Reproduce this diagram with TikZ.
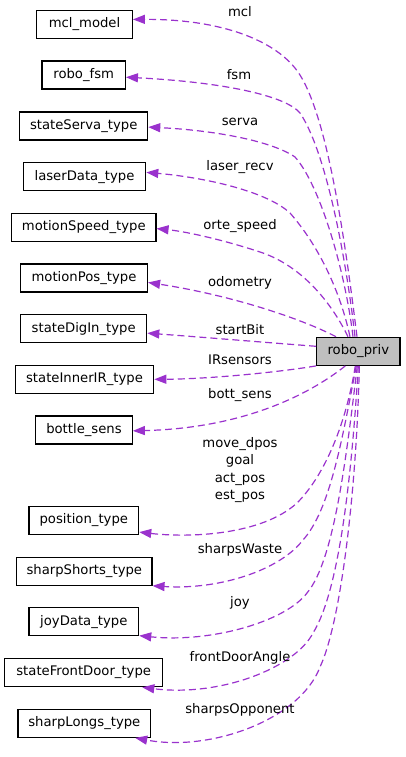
\documentclass[tikz,border=0pt]{standalone}
\usepackage{fontspec}
\setmainfont{DejaVu Sans}
\usetikzlibrary{arrows.meta}
\definecolor{edgecol}{HTML}{9A32CD}
\definecolor{privfill}{HTML}{BFBFBF}
\tikzset{
  cls/.style={draw=black, line width=1.2pt, fill=white, minimum height=28pt, inner sep=0pt, font=\fontsize{13.2}{16}\selectfont},
  edge/.style={draw=edgecol, line width=1.2pt, dash pattern=on 7pt off 4pt, -{Triangle[length=12pt,width=9pt]}},
  lbl/.style={font=\fontsize{13.2}{16}\selectfont, inner sep=0pt}
}
\begin{document}
\begin{tikzpicture}[x=1pt,y=-1pt]
\useasboundingbox (0,0) rectangle (405,757);
% class boxes
\node[cls, minimum width=95.6pt] (mcl) at (84.5,24.5) {mcl\_model};
\node[cls, minimum width=83.3pt] (fsm) at (83.7,75) {robo\_fsm};
\node[cls, minimum width=128pt] (serva) at (83.7,126) {stateServa\_type};
\node[cls, minimum width=122.4pt] (laser) at (84.5,176.7) {laserData\_type};
\node[cls, minimum width=144.3pt] (speed) at (83.8,227.3) {motionSpeed\_type};
\node[cls, minimum width=127pt] (mpos) at (84,278) {motionPos\_type};
\node[cls, minimum width=126pt] (digin) at (83.7,328.7) {stateDigIn\_type};
\node[cls, minimum width=138.4pt] (innerir) at (84.5,379.3) {stateInnerIR\_type};
\node[cls, minimum width=96.6pt] (bottle) at (84,430) {bottle\_sens};
\node[cls, minimum width=109.7pt] (pos) at (83.8,520.3) {position\_type};
\node[cls, minimum width=135.3pt] (shorts) at (84.3,571.3) {sharpShorts\_type};
\node[cls, minimum width=109.7pt] (joy) at (83.8,621.8) {joyData\_type};
\node[cls, minimum width=158pt] (front) at (83.7,672.7) {stateFrontDoor\_type};
\node[cls, minimum width=132.7pt] (longs) at (84.3,723.3) {sharpLongs\_type};
\node[cls, fill=privfill, minimum width=83.3pt] (rp) at (358.3,351.3) {robo\_priv};
% edges
\draw[edge] ([xshift=-1.3pt]rp.north) .. controls (345,240) and (328,120) .. (300,75) .. controls (278,40) and (220,19) .. (mcl.6);
\draw[edge] ([xshift=-3.3pt]rp.north) .. controls (345,250) and (325,150) .. (300,113) .. controls (285,95) and (220,82) .. (fsm.-3);
\draw[edge] ([xshift=-5.3pt]rp.north) .. controls (345,270) and (320,185) .. (295,157) .. controls (270,140) and (210,130) .. (serva.-1);
\draw[edge] ([xshift=-8.3pt]rp.north) .. controls (340,290) and (318,245) .. (290,213) .. controls (265,190) and (200,177) .. (laser.4);
\draw[edge] ([xshift=-10.3pt]rp.north) .. controls (330,300) and (300,265) .. (260,252) .. controls (230,242) and (190,232) .. (speed.-1.5);
\draw[edge] ([xshift=-22.3pt]rp.north) .. controls (300,318) and (230,295) .. (mpos.-4.5);
\draw[edge] ([yshift=5pt]rp.west) .. controls (260,342) and (200,337) .. (digin.-4);
\draw[edge] (rp.south west) .. controls (280,372) and (210,379) .. (innerir.east);
\draw[edge] ([xshift=-13pt]rp.south) .. controls (315,390) and (250,428) .. (bottle.-1);
\draw[edge] ([xshift=-3pt]rp.south) .. controls (345,430) and (322,478) .. (297,503) .. controls (262,535) and (190,538) .. (pos.-12);
\draw[edge] ([xshift=-2pt]rp.south) .. controls (342,440) and (330,510) .. (303,540) .. controls (280,570) and (220,590) .. (shorts.-12);
\draw[edge] ([xshift=-1pt]rp.south) .. controls (347,450) and (335,560) .. (307,593) .. controls (285,622) and (210,643) .. (joy.-14);
\draw[edge] (rp.south) .. controls (352,470) and (340,590) .. (313,633) .. controls (295,668) and (220,697) .. (front.-14);
\draw[edge] ([xshift=1pt]rp.south) .. controls (357,480) and (342,620) .. (320,667) .. controls (300,720) and (210,752) .. (longs.-16);
% labels
\node[lbl] (lmcl) at (240,12) {mcl};
\node[lbl] (lfsm) at (239,75) {fsm};
\node[lbl] (lserva) at (240,122) {serva};
\node[lbl] (llaser) at (240,167) {laser\_recv};
\node[lbl] (lspeed) at (240,226) {orte\_speed};
\node[lbl] (lodo) at (240,283) {odometry};
\node[lbl] (lstart) at (240,330) {startBit};
\node[lbl] (lir) at (240,360) {IRsensors};
\node[lbl] (lbott) at (240,395) {bott\_sens};
\node[lbl, align=center, font=\fontsize{13.2}{17.3}\selectfont] (lpos) at (240,470) {move\_dpos\\goal\\act\_pos\\est\_pos};
\node[lbl] (lwaste) at (240,550) {sharpsWaste};
\node[lbl] (ljoy) at (240,603) {joy};
\node[lbl] (lfront) at (240,658) {frontDoorAngle};
\node[lbl] (lopp) at (240,710) {sharpsOpponent};
\end{tikzpicture}
\end{document}
